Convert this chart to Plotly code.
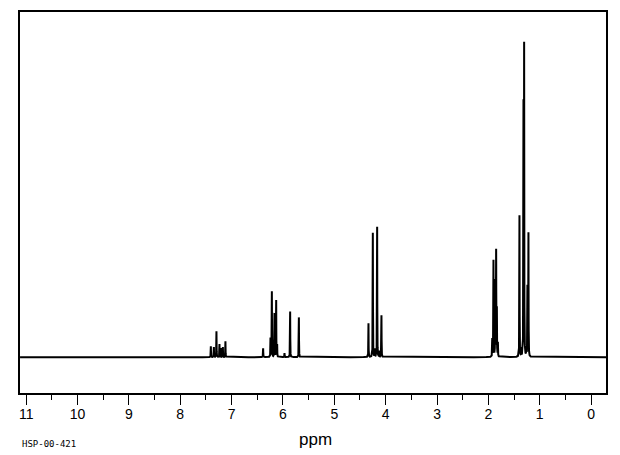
import numpy as np
import plotly.graph_objects as go

# Peak list (chemical shift in ppm, relative height)
peak_ppm = [7.404, 7.345, 7.295, 7.236, 7.21, 7.17, 7.12,
            6.386, 6.243, 6.216, 6.165, 6.132, 6.113, 5.97, 5.86, 5.69,
            4.335, 4.25, 4.21, 4.166, 4.125, 4.082,
            1.925, 1.901, 1.868, 1.849, 1.835, 1.815,
            1.395, 1.36, 1.317, 1.304, 1.26, 1.24, 1.22]
peak_height = [11, 10, 26, 13, 9, 10, 16,
               9, 19, 66, 44, 57, 12, 4, 46, 40,
               34, 125, 8, 131, 6, 42,
               18, 97, 76, 106, 47, 14,
               142, 8, 248, 308, 8, 70, 124]

tick_vals = list(range(0, 12))
tick_text = [str(v) for v in tick_vals]
x_range = [11.12, -0.29]
y_range = [-36, 347]

# Build the trace from the peak list with a narrow Lorentzian line shape
gamma = 0.0025
grid = np.arange(-0.29, 11.12, 0.001)
x = np.unique(np.concatenate([grid, np.array(peak_ppm)]))
p = np.array(peak_ppm)[None, :]
h = np.array(peak_height)[None, :]
y = (h / (1.0 + ((x[:, None] - p) / gamma) ** 2)).sum(axis=1)

# page body has an 8px margin; figure pixel box is offset by it
OFF = 8
W, H = 620 - OFF, 455 - OFF
L, T = 20 - OFF, 10 - OFF
R = W - (606 - OFF)
B = H - (393 - OFF)

fig = go.Figure()
fig.add_trace(go.Scatter(x=x, y=y, mode="lines",
                         line=dict(color="black", width=2),
                         hoverinfo="skip", showlegend=False))

def px_to_paper(px, py):
    pw, ph = W - L - R, H - T - B
    return (px - OFF - L) / pw, (H - B - (py - OFF)) / ph

ppm_x, ppm_y = px_to_paper(315, 440)
hsp_x, hsp_y = px_to_paper(20, 444)

fig.update_layout(
    width=W, height=H,
    margin=dict(l=L, r=R, t=T, b=B, pad=0),
    paper_bgcolor="white", plot_bgcolor="white",
    font=dict(family="Liberation Sans", color="black"),
    xaxis=dict(range=x_range, tickvals=tick_vals, ticktext=tick_text,
               showgrid=False, zeroline=False,
               showline=True, mirror=True, linecolor="black", linewidth=1.5,
               ticks="outside", ticklen=10, tickwidth=1.2, tickcolor="black",
               ticklabelstandoff=-3,
               tickfont=dict(size=14, family="Liberation Sans", color="black"),
               minor=dict(dtick=0.5, tick0=0, ticks="outside", ticklen=5,
                          tickwidth=1.2, tickcolor="black", showgrid=False)),
    yaxis=dict(range=y_range, showgrid=False, zeroline=False,
               showticklabels=False, ticks="",
               showline=True, mirror=True, linecolor="black", linewidth=1.5),
    annotations=[
        dict(text="ppm", x=ppm_x, y=ppm_y, xref="paper", yref="paper",
             showarrow=False, xanchor="center", yanchor="middle",
             font=dict(size=17, family="Liberation Sans")),
        dict(text="HSP-00-421", x=hsp_x, y=hsp_y, xref="paper", yref="paper",
             showarrow=False, xanchor="left", yanchor="middle",
             font=dict(size=9, family="DejaVu Sans Mono")),
    ],
)

fig.write_html("out.html")
